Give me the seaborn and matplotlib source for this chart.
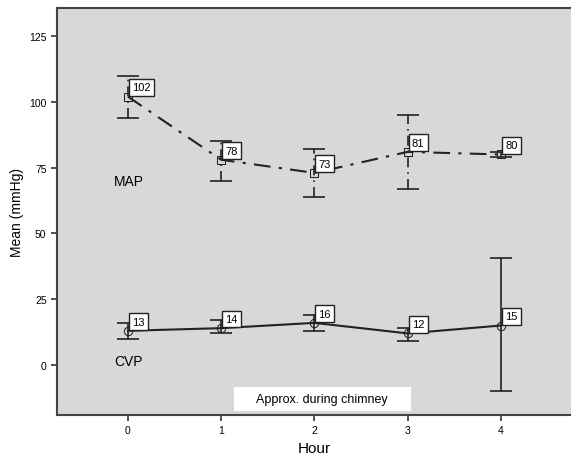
import pandas as pd
import seaborn as sns
import matplotlib.pyplot as plt
from matplotlib.patches import Rectangle

# values
hours = [0, 1, 2, 3, 4]
map_mean = [102, 78, 73, 81, 80]
map_low = [94, 70, 64, 67, 79]
map_high = [110, 85, 82, 95, 81]
cvp_mean = [13, 14, 16, 12, 15]
cvp_low = [10, 12, 13, 9, -10]
cvp_high = [16, 17, 19, 14, 40.5]

df = pd.DataFrame({'hour': hours * 2,
                   'mean': map_mean + cvp_mean,
                   'series': ['MAP'] * 5 + ['CVP'] * 5})

sns.set_style('white')
plt.rcParams['font.family'] = ['Liberation Sans', 'DejaVu Sans']
plt.rcParams['text.color'] = 'black'
plt.rcParams['axes.labelcolor'] = 'black'
plt.rcParams['xtick.labelcolor'] = 'black'
plt.rcParams['ytick.labelcolor'] = 'black'

fig = plt.figure(figsize=(5.71, 4.60), dpi=100)
ax = fig.add_axes([0.0998, 0.0957, 0.9, 0.8843])
ax.set_facecolor('#d9d8d6')

# error bars
for mean, low, high, ls in [(map_mean, map_low, map_high, (0, (6, 3, 1, 3))),
                            (cvp_mean, cvp_low, cvp_high, '-')]:
    yerr = [[m - l for m, l in zip(mean, low)], [h - m for m, h in zip(mean, high)]]
    eb = ax.errorbar(hours, mean, yerr=yerr, fmt='none', ecolor='#222222',
                     elinewidth=1.2, capsize=8, capthick=1.2, zorder=2)
    for lc in eb[2]:
        lc.set_linestyle(ls)

sns.lineplot(data=df[df.series == 'MAP'], x='hour', y='mean', ax=ax,
             color='#222222', linewidth=1.5, marker='s', markersize=6,
             markerfacecolor='none', markeredgecolor='#222222',
             dashes=False, linestyle=(0, (8, 4, 1.5, 4)), zorder=3)
sns.lineplot(data=df[df.series == 'CVP'], x='hour', y='mean', ax=ax,
             color='#222222', linewidth=1.5, marker='o', markersize=6,
             markerfacecolor='none', markeredgecolor='#222222', zorder=3)

# value labels
for xs, ys in [(hours, map_mean), (hours, cvp_mean)]:
    for x, y in zip(xs, ys):
        ax.annotate(str(y), (x, y), xytext=(3, 3), textcoords='offset points',
                    ha='left', va='bottom', fontsize=8, zorder=5,
                    bbox=dict(boxstyle='square,pad=0.3', fc='white', ec='#222222', lw=1))

ax.text(-0.15, 70, 'MAP', fontsize=10, ha='left', va='center')
ax.text(-0.15, 1.5, 'CVP', fontsize=10, ha='left', va='center')
ax.add_patch(Rectangle((1.14, -17.4), 1.9, 9.1, fc='white', ec='none', zorder=4))
ax.text(2.08, -12.8, 'Approx. during chimney', fontsize=9, ha='center', va='center', zorder=5)

ax.set_xlim(-0.76, 4.75)
ax.set_ylim(-19, 135.6)
ax.set_xticks(hours)
ax.set_yticks([0, 25, 50, 75, 100, 125])
ax.tick_params(axis='both', labelsize=7.5, length=4, width=1.2, direction='out',
               color='#333333', left=True, bottom=True)
ax.set_xlabel('Hour', fontsize=11)
ax.set_ylabel('Mean (mmHg)', fontsize=10)

for side in ['left', 'bottom', 'top']:
    ax.spines[side].set_color('#444444')
    ax.spines[side].set_linewidth(1.5)
ax.spines['right'].set_visible(False)

fig.savefig('out.png', dpi=100)
